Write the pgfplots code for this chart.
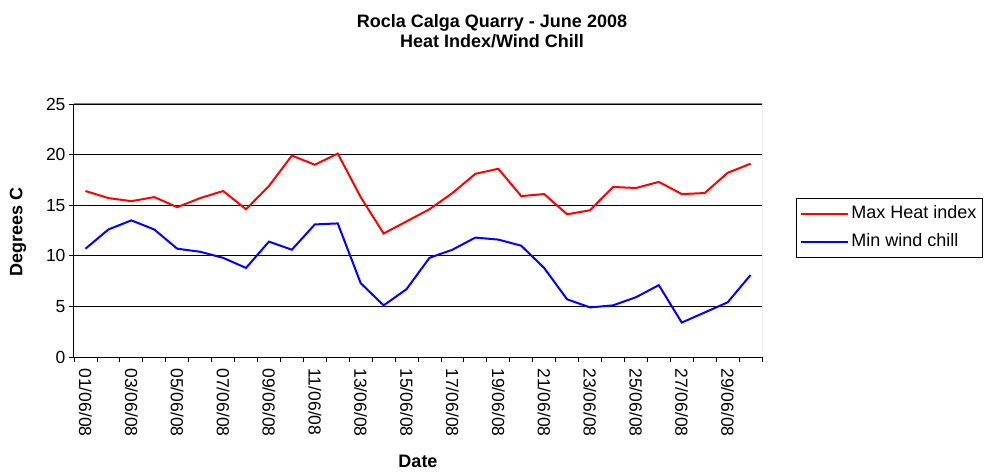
\documentclass[border=0pt]{standalone}
\usepackage{fontspec}
\setmainfont{Liberation Sans}
\usepackage{pgfplots}
\pgfplotsset{compat=1.18}
\begin{document}
\begin{tikzpicture}
\path[use as bounding box] (-74bp,-115bp) rectangle (915bp,357bp);
\begin{axis}[
  name=ax, at={(0,0)}, anchor=south west,
  scale only axis, width=688bp, height=253bp,
  xmin=0.5, xmax=30.5, ymin=0, ymax=25,
  axis lines*=left,
  axis line style={black, line width=1bp},
  tick align=outside,
  major tick length=5bp,
  tick style={black, line width=0.8bp},
  ytick={0,5,10,15,20,25},
  ymajorgrids,
  grid style={black, line width=0.8bp},
  xtick={0.5,1.5,...,30.5},
  x tick label as interval,
  xticklabels={{01/06/08},{},{03/06/08},{},{05/06/08},{},{07/06/08},{},{09/06/08},{},{11/06/08},{},{13/06/08},{},{15/06/08},{},{17/06/08},{},{19/06/08},{},{21/06/08},{},{23/06/08},{},{25/06/08},{},{27/06/08},{},{29/06/08},{}},
  xticklabel style={rotate=-90, anchor=west, font=\fontsize{17.5bp}{20bp}\selectfont, xshift=3bp},
  yticklabel style={font=\fontsize{17.5bp}{20bp}\selectfont},
  /pgf/number format/assume math mode=true,
  legend style={at={(1.04942,0.62846)}, anchor=north west, draw=black, line width=0.8bp, fill=white,
    inner xsep=4bp, inner ysep=5bp, row sep=7bp,
    font=\fontsize{18bp}{20bp}\selectfont,
    nodes={inner sep=2bp, text height=13bp, text depth=4bp}},
  legend cell align=left,
  legend image code/.code={\draw[#1] (0bp,0bp) -- (47bp,0bp);},
]
\addplot[red, line width=2bp] coordinates {
(1,16.4) (2,15.7) (3,15.4) (4,15.8) (5,14.8) (6,15.7) (7,16.4) (8,14.6) (9,16.9) (10,19.9)
(11,19.0) (12,20.1) (13,15.8) (14,12.2) (15,13.4) (16,14.6) (17,16.2) (18,18.1) (19,18.6) (20,15.9)
(21,16.1) (22,14.1) (23,14.5) (24,16.8) (25,16.7) (26,17.3) (27,16.1) (28,16.2) (29,18.2) (30,19.1)};
\addlegendentry{Max Heat index}
\addplot[blue, line width=2bp] coordinates {
(1,10.7) (2,12.6) (3,13.5) (4,12.6) (5,10.7) (6,10.4) (7,9.8) (8,8.8) (9,11.4) (10,10.6)
(11,13.1) (12,13.2) (13,7.3) (14,5.1) (15,6.7) (16,9.8) (17,10.6) (18,11.8) (19,11.6) (20,11.0)
(21,8.8) (22,5.7) (23,4.9) (24,5.1) (25,5.9) (26,7.1) (27,3.4) (28,4.4) (29,5.4) (30,8.1)};
\addlegendentry{Min wind chill}
\draw[gray, line width=1bp] (rel axis cs:0,1) -- (rel axis cs:1,1) -- (rel axis cs:1,0);
\end{axis}
\node[font=\bfseries\fontsize{18bp}{21bp}\selectfont, anchor=base] at (418bp,329bp) {Rocla Calga Quarry - June 2008};
\node[font=\bfseries\fontsize{18bp}{21bp}\selectfont, anchor=base] at (418bp,309bp) {Heat Index/Wind Chill};
\node[font=\bfseries\fontsize{18bp}{21bp}\selectfont, rotate=90] at (-56bp,125bp) {Degrees C};
\node[font=\bfseries\fontsize{18bp}{21bp}\selectfont] at (344bp,-104bp) {Date};
\end{tikzpicture}
\end{document}
